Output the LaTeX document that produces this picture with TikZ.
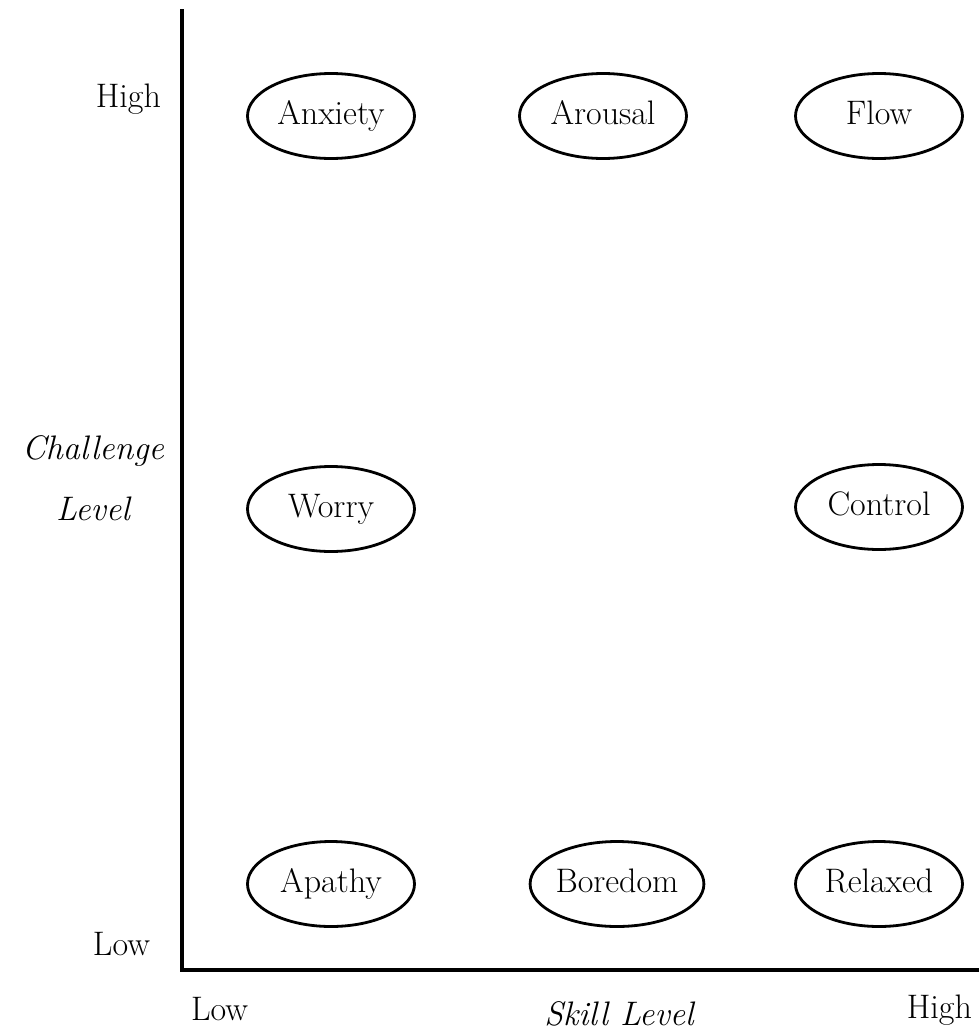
\documentclass[tikz,border=0pt]{standalone}
\usetikzlibrary{shapes.geometric}

\begin{document}
\begin{tikzpicture}[x=0.5pt,y=-0.5pt,
   every node/.style={font=\fontsize{17}{20}\selectfont},
   state/.style={draw,ellipse,line width=1.4pt,inner sep=0pt,
      minimum width=83.5pt,minimum height=42.5pt,
      text height=12pt,text depth=3.5pt},
   axis label/.style={font=\fontsize{17}{30.5}\selectfont\itshape,align=center}]
\useasboundingbox (0,0) rectangle (979,1033);
% axes
\coordinate (ytop) at (182,9);
\coordinate (origin) at (182,970);
\coordinate (xend) at (979,970);
\draw[line width=2.3pt] (ytop) -- (origin) -- (xend);
% tick texts
\node[anchor=base east] (yhigh) at (168,107) {High};
\node[anchor=base east] (ylow) at (157,955) {Low};
\node[anchor=base west] (xlow) at (184,1020) {Low};
\node[anchor=base east] (xhigh) at (979,1018) {High};
\node[axis label] (ylabel) at (93,478) {Challenge\\Level};
\node[axis label,anchor=base] (xlabel) at (619,1025) {Skill Level};
% states
\node[state] (anxiety) at (331,116) {Anxiety};
\node[state] (arousal) at (603,116) {Arousal};
\node[state] (flow) at (879,116) {Flow};
\node[state] (worry) at (331,509) {Worry};
\node[state] (control) at (879,507) {Control};
\node[state] (apathy) at (331,884) {Apathy};
\node[state] (boredom) at (617,884) {Boredom};
\node[state] (relaxed) at (879,884) {Relaxed};
\end{tikzpicture}
\end{document}
